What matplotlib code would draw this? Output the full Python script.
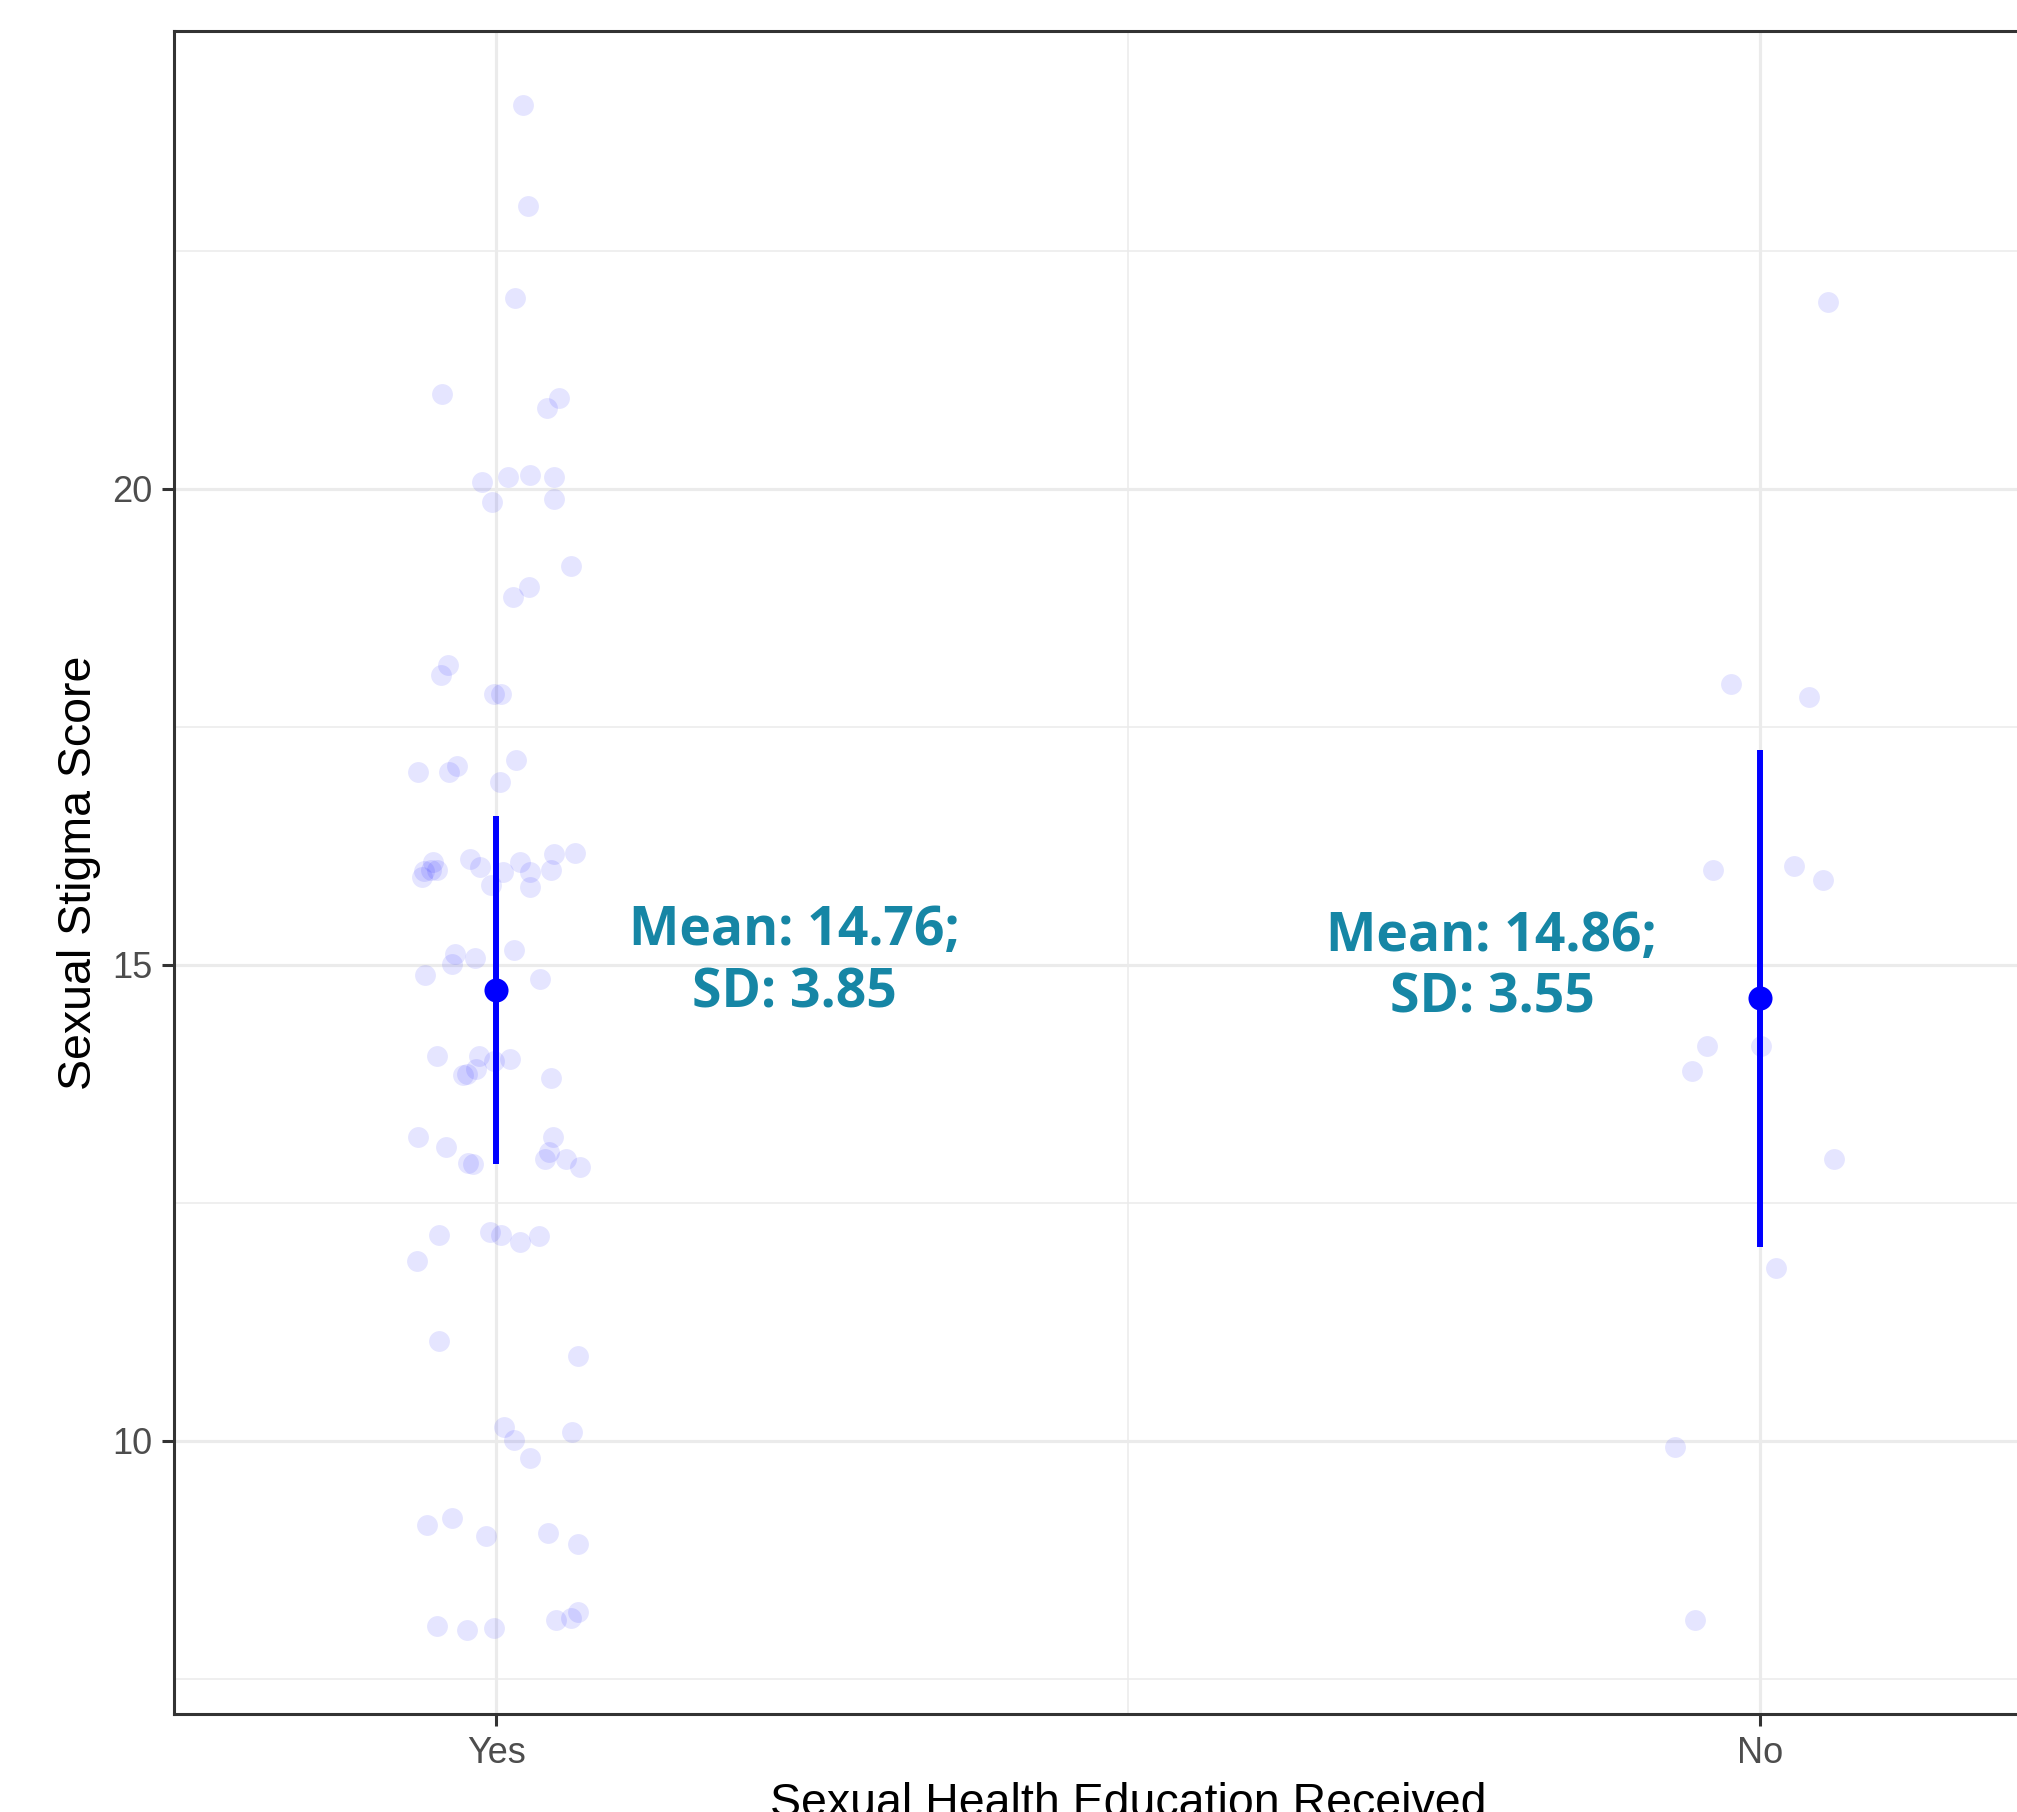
import numpy as np
import matplotlib
matplotlib.use('Agg')
import matplotlib.pyplot as plt
from matplotlib.ticker import FixedLocator

# groups and summary values
groups = ['Yes', 'No']
mean_labels = ['Mean: 14.76;\nSD: 3.85', 'Mean: 14.86;\nSD: 3.55']
mean_pts = [14.74, 14.65]
bar_lo = [12.91, 12.04]
bar_hi = [16.56, 17.26]

# jittered raw scores (offset from category, score)
yes_dx = [0.021, 0.025, 0.015, -0.043, 0.040, 0.050, -0.011, 0.009, 0.027, 0.046,
          -0.003, 0.046, 0.059, 0.026, 0.013, -0.038, -0.044, -0.002, 0.004, 0.016,
          -0.062, -0.037, -0.031, 0.003, -0.059, -0.057, -0.052, -0.050, -0.047, -0.021,
          -0.013, -0.004, 0.005, 0.019, 0.027, 0.043, 0.046, 0.062, 0.027, 0.014,
          -0.033, -0.035, -0.017, -0.056, 0.035, -0.047, -0.014, -0.016, -0.026, -0.023,
          -0.002, 0.011, 0.043, -0.062, -0.040, -0.022, -0.018, 0.045, 0.042, 0.039,
          0.055, 0.066, -0.045, -0.005, 0.004, 0.019, 0.034, -0.063, -0.045, 0.065,
          0.006, 0.014, 0.027, 0.060, -0.055, -0.035, -0.008, 0.041, 0.065, -0.047,
          -0.023, -0.002, 0.047, 0.059, 0.065]
yes_score = [24.03, 22.97, 22.01, 21.00, 20.85, 20.95, 20.07, 20.12, 20.15, 20.12,
             19.86, 19.89, 19.19, 18.97, 18.86, 18.15, 18.04, 17.84, 17.84, 17.15,
             17.03, 17.03, 17.09, 16.92, 15.92, 15.99, 16.00, 16.08, 16.00, 16.11,
             16.03, 15.84, 15.97, 16.08, 15.97, 16.00, 16.16, 16.18, 15.82, 15.16,
             15.11, 15.01, 15.07, 14.89, 14.85, 14.04, 14.04, 13.91, 13.84, 13.85,
             13.99, 14.01, 13.81, 13.19, 13.09, 12.92, 12.91, 13.19, 13.03, 12.96,
             12.96, 12.88, 12.16, 12.19, 12.16, 12.09, 12.15, 11.89, 11.05, 10.89,
             10.14, 10.01, 9.82, 10.09, 9.12, 9.19, 9.00, 9.03, 8.92, 8.05,
             8.01, 8.03, 8.12, 8.14, 8.20]
no_dx = [0.054, -0.023, 0.039, -0.037, 0.027, 0.050, -0.042, -0.054, 0.001, 0.059,
         0.013, -0.067, -0.051]
no_score = [21.96, 17.95, 17.81, 16.00, 16.04, 15.89, 14.15, 13.88, 14.15, 12.96,
            11.81, 9.93, 8.12]

W, H = 2017, 1812
fig = plt.figure(figsize=(W / 100, H / 100), dpi=100)
# panel is cropped on the right in the reference
ax = fig.add_axes([174 / W, 1 - 1714 / H, 1908 / W, 1683 / H])

ax.scatter(np.array(yes_dx) + 0, yes_score, s=225, color='blue', alpha=0.1, linewidths=0, zorder=2)
ax.scatter(np.array(no_dx) + 1, no_score, s=225, color='blue', alpha=0.1, linewidths=0, zorder=2)

for i in range(len(groups)):
    ax.plot([i, i], [bar_lo[i], bar_hi[i]], color='blue', lw=4.3, solid_capstyle='butt', zorder=3)
    ax.scatter([i], [mean_pts[i]], s=300, color='blue', linewidths=0, zorder=4)

ax.text(0.236, 15.03, mean_labels[0], ha='center', va='center', color='#1686a5',
        fontsize=38.5, fontweight='bold', family='Open Sans', linespacing=1.2, zorder=5)
ax.text(0.788, 14.97, mean_labels[1], ha='center', va='center', color='#1686a5',
        fontsize=38.5, fontweight='bold', family='Open Sans', linespacing=1.2, zorder=5)

ax.set_xlim(-0.255, 1.255)
ax.set_ylim(7.13, 24.81)
ax.set_xticks(range(len(groups)))
ax.set_xticklabels(groups)
ax.set_yticks([10, 15, 20])
ax.xaxis.set_minor_locator(FixedLocator([0.5]))
ax.yaxis.set_minor_locator(FixedLocator([7.5, 12.5, 17.5, 22.5]))

ax.set_axisbelow(True)
ax.grid(which='major', color='#ebebeb', lw=2.3)
ax.grid(which='minor', color='#ebebeb', lw=1.1)

for sp in ax.spines.values():
    sp.set_color('#333333')
    sp.set_linewidth(2.2)

ax.tick_params(which='major', length=8.6, width=2.2, color='#333333', labelcolor='#4d4d4d',
               labelsize=26, pad=7, labelfontfamily='Liberation Sans')
ax.tick_params(which='minor', length=0)

ax.set_ylabel('Sexual Stigma Score', fontsize=33.5, family='Liberation Sans', color='black')
ax.yaxis.set_label_coords(-0.038, 0.5)
ax.set_xlabel('Sexual Health Education Received', fontsize=33.5, family='Liberation Sans',
              color='black', va='top')
ax.xaxis.set_label_coords(0.5, -0.0405)

fig.savefig('out.png', dpi=100)
